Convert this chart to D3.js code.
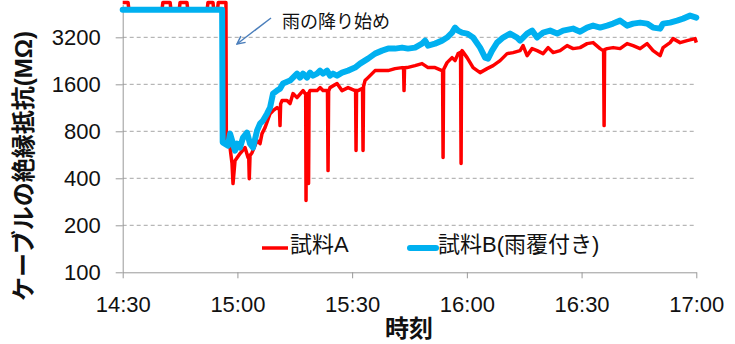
<!DOCTYPE html>
<html lang="ja">
<head>
<meta charset="utf-8">
<title>ケーブルの絶縁抵抗</title>
<script src="https://cdn.jsdelivr.net/npm/d3@7"></script>
<style>
  html, body { margin: 0; padding: 0; background: #fff; overflow: hidden; }
  text { font-family: "Liberation Sans", Arial, "Noto Sans CJK JP", sans-serif; fill: #111; }
  .tick text { font-size: 22px; }
  .grid line { stroke: #a6a6a6; stroke-dasharray: 4,3; }
  .axis path, .axis line { stroke: #999; }
  .axis-title { font-size: 24px; font-weight: bold; }
</style>
</head>
<body>
<div id="chart"></div>
<script>
// time axis: minutes after 14:30
var xTicks = [0, 30, 60, 90, 120, 150];
var xTickLabels = ["14:30", "15:00", "15:30", "16:00", "16:30", "17:00"];
var yTicks = [100, 200, 400, 800, 1600, 3200];

// 試料A (minutes, MΩ)
var minutesA = [0, 1.4, 1.6, 10.3, 10.5, 12.4, 12.6, 14.8, 15.0, 16.8, 17.0, 22.1, 22.3, 23.6, 23.8, 24.8, 25.0, 27.0,
  27.1, 28.07, 28.59, 28.85, 29.37, 30.68, 31.99, 32.77, 32.95, 33.1, 33.3, 33.82, 35.13, 35.91, 36.43, 37.22,
  38.53, 39.31, 40.36, 41.0, 41.14, 41.3, 41.66, 42.97, 43.76, 44.54, 45.59, 47.16, 47.7, 47.85, 47.94, 48.05,
  48.45, 48.6, 48.75, 48.99, 50.82, 51.6, 52.39, 53.43, 53.55, 53.7, 53.85, 54.22, 56.05, 57.36, 58.93, 60.76,
  60.9, 61.02, 61.15, 61.54, 62.59, 62.72, 62.85, 62.98, 63.37, 64.16, 65.99, 69.39, 71.22, 73.05, 73.45, 73.57,
  73.7, 74.36, 76.45, 78.28, 79.85, 81.68, 83.51, 83.65, 83.78, 83.92, 84.82, 86.13, 86.92, 87.7, 88.35, 88.49,
  88.62, 88.75, 90.06, 91.63, 93.46, 95.29, 96.86, 98.69, 100.52, 102.09, 103.92, 104.7, 105.75, 107.06, 108.37,
  109.94, 111.25, 112.55, 114.38, 116.21, 117.78, 119.61, 121.44, 123.01, 124.84, 125.63, 125.76, 125.89, 126.02,
  126.67, 128.24, 130.07, 131.9, 133.47, 135.3, 137.13, 138.7, 140.53, 141.31, 143.14, 143.93, 145.76, 147.59,
  149.68, 150];
var resistA = [5350, 5350, 4850, 4850, 5350, 5350, 4850, 4850, 5350, 5350, 4850, 4850, 5350, 5350, 4850, 4850, 5350, 5350,
  720, 629, 497, 370, 519, 576, 629, 543, 560, 398, 560, 584, 698, 667, 773, 845,
  1038, 1085, 1135, 1100, 870, 1200, 1258, 1258, 1204, 1395, 1315, 1458, 1395, 1380, 288, 1380,
  1400, 370, 1420, 1458, 1458, 1524, 1458, 1458, 1450, 448, 1450, 1524, 1617, 1458, 1524, 1458,
  1460, 602, 1460, 1458, 1501, 1500, 602, 1550, 1690, 1766, 1958, 1958, 2017, 2047, 2040, 1458,
  2040, 2047, 2108, 2171, 2047, 2047, 1958, 1960, 543, 1990, 2203, 2372, 2269, 2516, 2560, 497,
  2600, 2630, 2372, 2047, 1901, 2017, 2108, 2269, 2516, 2554, 2630, 2831, 2443, 2709, 2630,
  2516, 2749, 2554, 2630, 2831, 2709, 2749, 2916, 2959, 2709, 2630, 2640, 870, 2670,
  2709, 2749, 2709, 2916, 2831, 2709, 2916, 2630, 2443, 2749, 2959, 3139, 2959, 3048,
  3139, 2959];

// 試料B(雨覆付き) (minutes, MΩ)
var minutesB = [0, 26.0, 26.15, 27.54, 28.07, 28.85, 29.37, 29.9, 30.68, 31.46, 32.51, 33.3, 34.08, 35.13, 35.91,
  36.7, 37.74, 38.53, 39.31, 40.36, 41.14, 41.92, 43.76, 44.54, 45.59, 46.37, 47.16, 48.2, 48.99, 49.77, 50.82,
  51.6, 52.39, 53.43, 54.22, 55.0, 56.05, 57.36, 58.93, 60.76, 62.07, 64.16, 65.99, 67.82, 69.39, 71.22, 73.05,
  74.6, 76.45, 78.28, 79.07, 79.85, 81.68, 83.51, 84.82, 86.13, 86.92, 87.7, 88.75, 90.06, 91.63, 93.46, 94.77,
  95.55, 96.59, 97.9, 99.47, 101.3, 103.13, 103.92, 105.75, 107.06, 108.37, 109.94, 111.77, 113.6, 115.17,
  117.78, 119.61, 121.44, 123.01, 124.84, 126.67, 128.24, 130.07, 131.9, 133.47, 135.3, 137.13, 138.7, 140.53,
  141.31, 143.14, 144.97, 146.54, 148.37, 150];
var resistB = [4800, 4800, 680, 648, 773, 667, 602, 667, 629, 729, 785, 667, 629, 808, 896,
  937, 1038, 1135, 1395, 1458, 1501, 1617, 1690, 1766, 1873, 1766, 1873, 1766, 1901, 1819, 1873,
  1958, 1873, 1958, 1819, 1873, 1819, 1901, 1958, 2047, 2171, 2337, 2516, 2630, 2709, 2709, 2749,
  2709, 2749, 2916, 3048, 2831, 2916, 3048, 3190, 3430, 3693, 3532, 3430, 3380, 3190, 2749, 2372,
  2337, 2630, 2959, 3190, 3380, 3190, 3048, 3380, 3532, 3190, 3430, 3532, 3380, 3532,
  3638, 3480, 3693, 3803, 3693, 3803, 3917, 4093, 3803, 3917, 3975, 3917, 3693, 3638,
  3917, 3975, 4093, 4216, 4407, 4279];

var seriesNames = ["試料A", "試料B(雨覆付き)"];
var seriesColors = ["#ff0000", "#00b0f0"];

var W = 735, H = 344;
var plotL = 122.7, plotR = 696.3, plotB = 272.3, plotT = 4.4;

var svg = d3.select("#chart").append("svg")
  .attr("width", W).attr("height", H);

var x = d3.scaleLinear().domain([0, 150]).range([plotL, plotR]);
var y = d3.scaleLog().base(2).domain([100, 5200]).range([plotB, plotT]);

// gridlines
svg.append("g").attr("class", "grid")
  .selectAll("line")
  .data(yTicks.slice(1))
  .enter().append("line")
  .attr("x1", plotL).attr("x2", plotR)
  .attr("y1", function(d){ return y(d); })
  .attr("y2", function(d){ return y(d); });

// axes
var yAxis = svg.append("g").attr("class", "axis")
  .attr("transform", "translate(" + plotL + ",0)")
  .call(d3.axisLeft(y).tickValues(yTicks).tickSize(7).tickSizeOuter(0).tickPadding(15)
    .tickFormat(function(d){ return d; }));

var xAxis = svg.append("g").attr("class", "axis")
  .attr("transform", "translate(0," + plotB + ")")
  .call(d3.axisBottom(x).tickValues(xTicks).tickSize(6).tickSizeOuter(0).tickPadding(18)
    .tickFormat(function(d, i){ return xTickLabels[i]; }));

svg.selectAll(".axis text").attr("fill", "#111").style("font-size", "22px");

// lines
var line = d3.line()
  .x(function(d){ return x(d[0]); })
  .y(function(d){ return y(d[1]); });

var dataA = minutesA.map(function(m, i){ return [m, resistA[i]]; });
var dataB = minutesB.map(function(m, i){ return [m, resistB[i]]; });

svg.append("path")
  .datum(dataA)
  .attr("d", line)
  .attr("fill", "none")
  .attr("stroke", seriesColors[0])
  .attr("stroke-width", 3.5)
  .attr("stroke-linejoin", "round");

svg.append("path")
  .datum(dataB)
  .attr("d", line)
  .attr("fill", "none")
  .attr("stroke", seriesColors[1])
  .attr("stroke-width", 6)
  .attr("stroke-linejoin", "round")
  .attr("stroke-linecap", "round");

// legend
var legendX = [262, 410];
var legendW = [3.5, 6];
seriesNames.forEach(function(name, i){
  svg.append("line")
    .attr("x1", legendX[i]).attr("x2", legendX[i] + 26)
    .attr("y1", 248).attr("y2", 248)
    .attr("stroke", seriesColors[i])
    .attr("stroke-width", legendW[i])
    .attr("stroke-linecap", i == 1 ? "round" : "butt");
  svg.append("text")
    .attr("x", legendX[i] + 28).attr("y", 252)
    .style("font-size", "22px")
    .text(name);
});

// annotation
svg.append("defs").append("marker")
  .attr("id", "arrow")
  .attr("viewBox", "0 0 10 10")
  .attr("refX", 9).attr("refY", 5)
  .attr("markerWidth", 7).attr("markerHeight", 7)
  .attr("orient", "auto")
  .append("path")
  .attr("d", "M1,1 L9,5 L1,9")
  .attr("fill", "none")
  .attr("stroke", "#4a7ebb")
  .attr("stroke-width", 1.5);

svg.append("line")
  .attr("x1", 271).attr("y1", 18)
  .attr("x2", 237).attr("y2", 44)
  .attr("stroke", "#4a7ebb")
  .attr("stroke-width", 1.4)
  .attr("marker-end", "url(#arrow)");

svg.append("text")
  .attr("x", 282).attr("y", 28)
  .style("font-size", "18px")
  .attr("fill", "#222")
  .text("雨の降り始め");

// axis titles
svg.append("text")
  .attr("class", "axis-title")
  .attr("text-anchor", "middle")
  .attr("transform", "translate(32,166) rotate(-90)")
  .text("ケーブルの絶縁抵抗(MΩ)");

svg.append("text")
  .attr("class", "axis-title")
  .attr("text-anchor", "middle")
  .attr("x", 409).attr("y", 337)
  .text("時刻");
</script>
</body>
</html>
